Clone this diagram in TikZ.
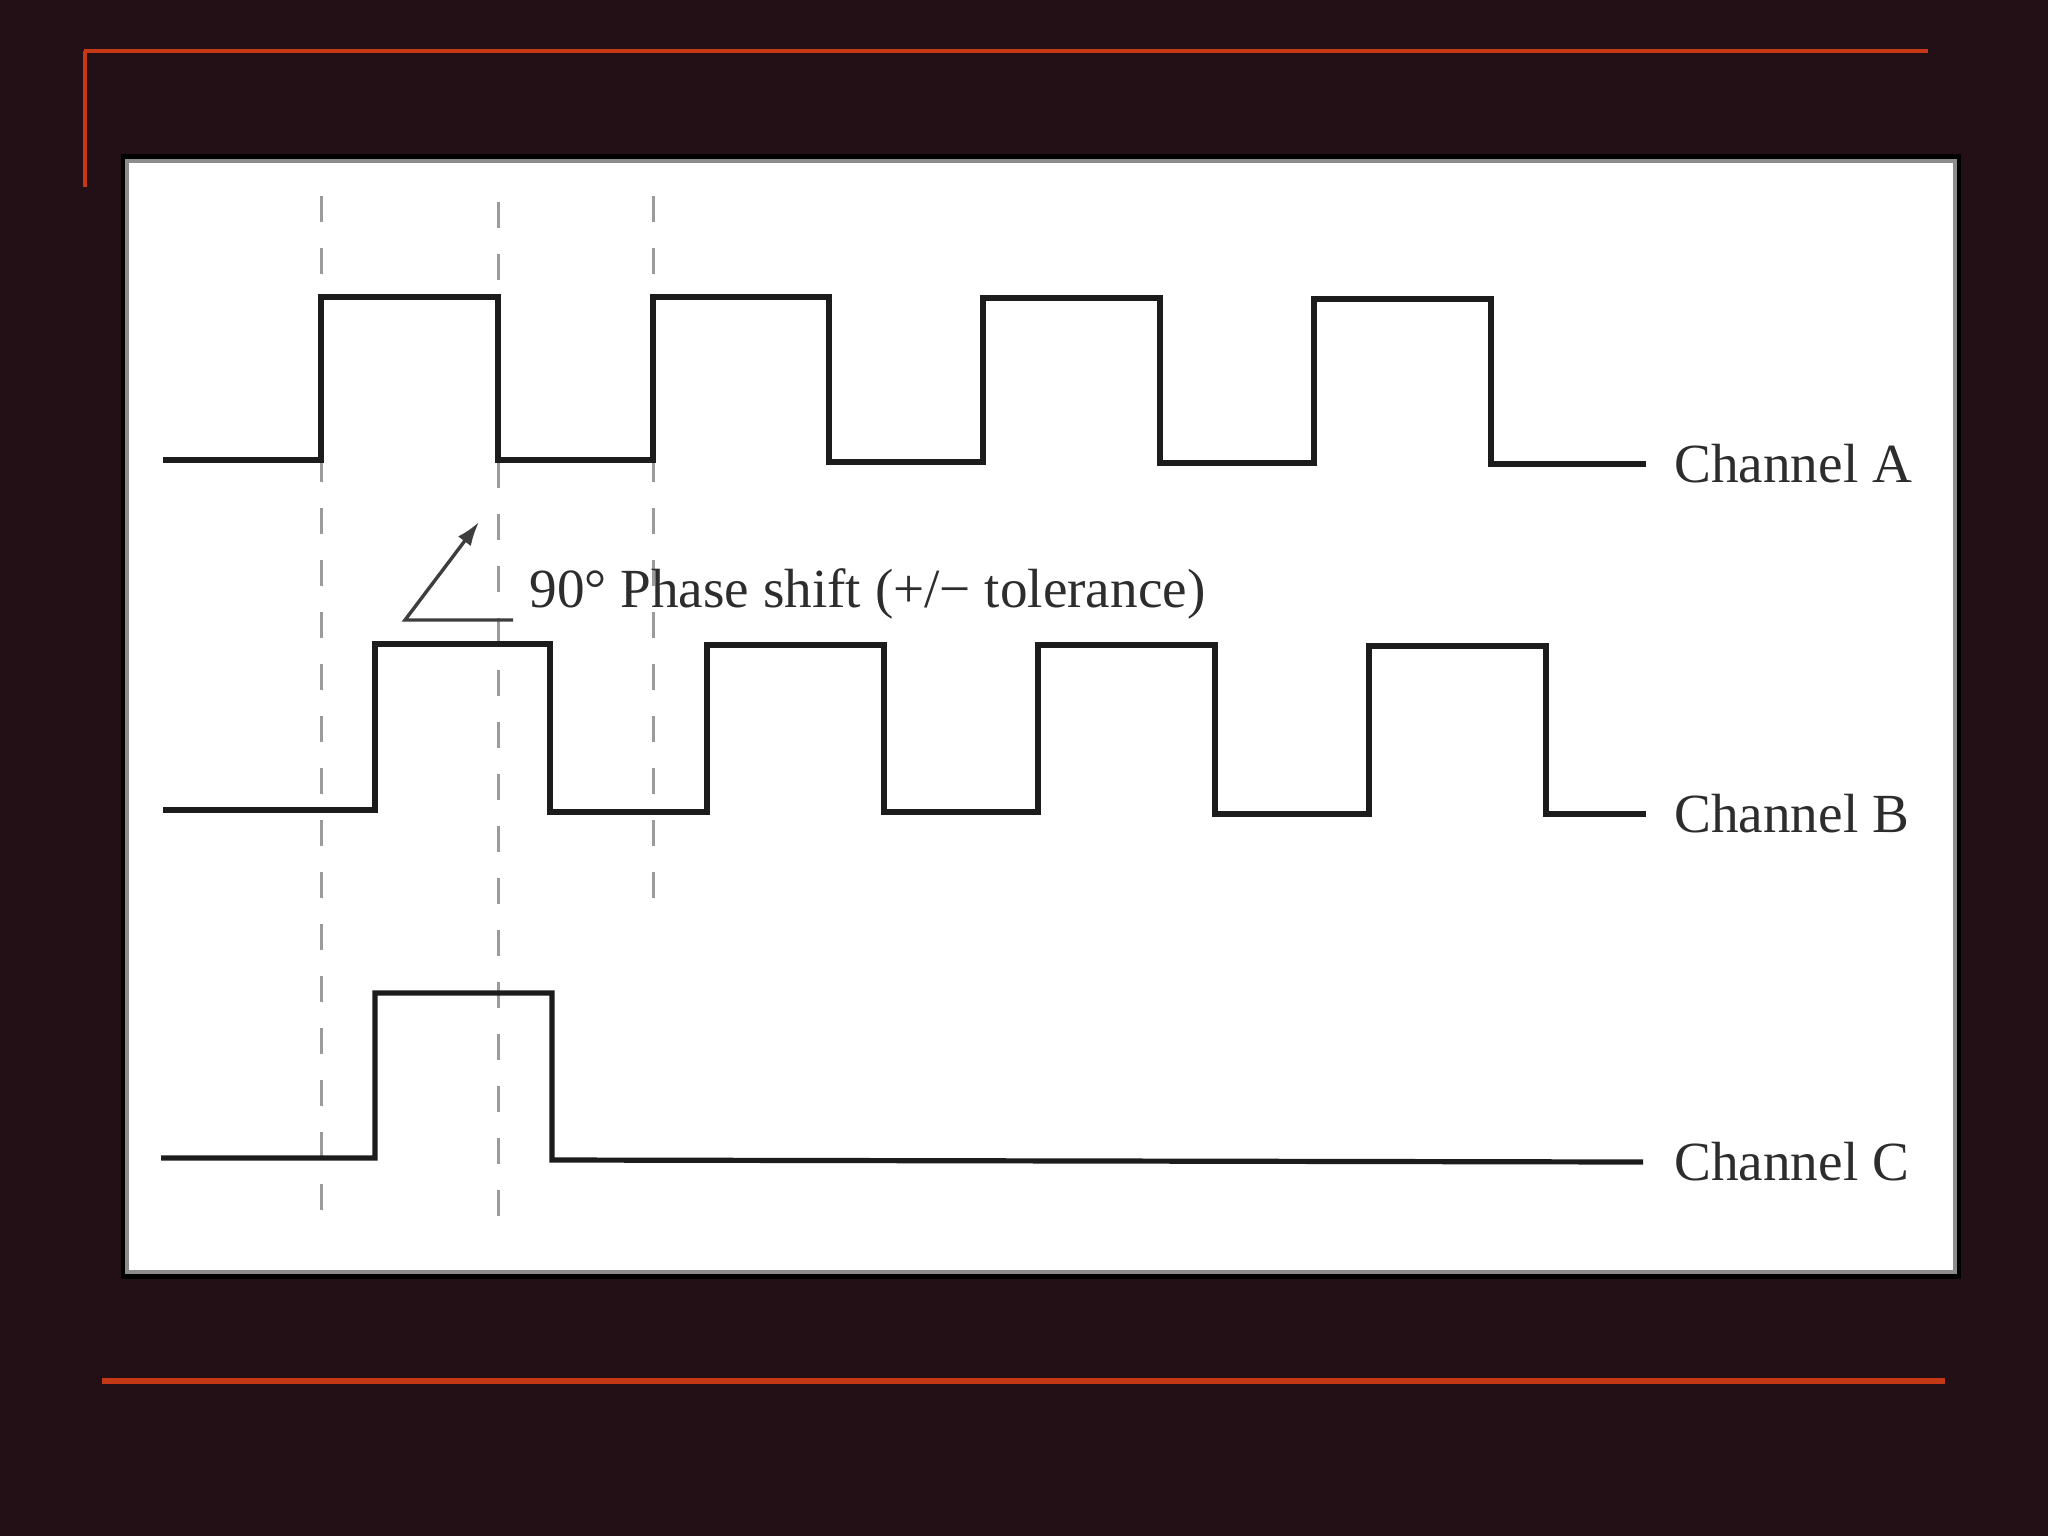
\documentclass[tikz,border=0pt]{standalone}
\usepackage{fontspec}
\setmainfont{Liberation Serif}
\usetikzlibrary{arrows.meta}
\definecolor{bgc}{RGB}{34,16,22}
\definecolor{redl}{RGB}{196,56,22}
\definecolor{dashc}{RGB}{155,155,155}
\definecolor{sig}{RGB}{28,28,28}
\definecolor{txt}{RGB}{45,45,45}
\definecolor{rim}{RGB}{140,140,140}
\begin{document}
\begin{tikzpicture}[x=0.5pt,y=-0.5pt,
  signal/.style={draw=sig, line width=2.6pt, line join=miter},
  guide/.style={draw=dashc, line width=1.5pt, dash pattern=on 13pt off 13pt},
  lbl/.style={font=\fontsize{27.6}{32}\selectfont, text=txt, inner sep=0pt, anchor=west},
  redrule/.style={draw=redl, line width=2.2pt},
  pointer/.style={draw=sig!85!white, line width=1.7pt}]
\fill[bgc] (0,0) rectangle (2048,1536);
\useasboundingbox (0,0) rectangle (2048,1536);
% red rules
\draw[redrule] (84,51) -- (1928,51);
\draw[redrule] (85,51) -- (85,187);
\draw[redrule, line width=2.6pt] (102,1381) -- (1945,1381);
% panel
\fill[black] (121,154) rectangle (1961,1279);
\fill[rim] (125,159) rectangle (1957,1274);
\fill[white] (129,163) rectangle (1953,1270);
% guide lines
\draw[guide] (321,196) -- (321,1228);
\draw[guide] (498,202) -- (498,1228);
\draw[guide] (653,196) -- (653,914);
% Channel A
\draw[signal] (163,460) -- (321,460) -- (321,297) -- (498,297) -- (498,460)
  -- (653,460) -- (653,297) -- (829,297) -- (829,462) -- (983,462) -- (983,298)
  -- (1160,298) -- (1160,463) -- (1314,463) -- (1314,299) -- (1491,299)
  -- (1491,464) -- (1646,464);
% Channel B
\draw[signal] (163,810) -- (375,810) -- (375,644) -- (550,644) -- (550,812)
  -- (707,812) -- (707,645) -- (884,645) -- (884,812) -- (1038,812) -- (1038,645)
  -- (1215,645) -- (1215,814) -- (1369,814) -- (1369,646) -- (1546,646)
  -- (1546,814) -- (1646,814);
% Channel C
\draw[signal] (161,1158) -- (375,1158) -- (375,993) -- (552,993) -- (552,1160)
  -- (1643,1162);
% labels
\node[lbl] (labA) at (1674,464) {Channel A};
\node[lbl] (labB) at (1674,814) {Channel B};
\node[lbl] (labC) at (1674,1162) {Channel C};
\node[lbl] (phase) at (529,594) {90° Phase shift (+/− tolerance)};
% pointer
\coordinate (tailend) at (513,620);
\coordinate (elbow) at (405,620);
\coordinate (tip) at (479,522);
\draw[pointer, -{Latex[length=12pt,width=8pt]}] (tailend) -- (elbow) -- (tip);
\end{tikzpicture}
\end{document}
